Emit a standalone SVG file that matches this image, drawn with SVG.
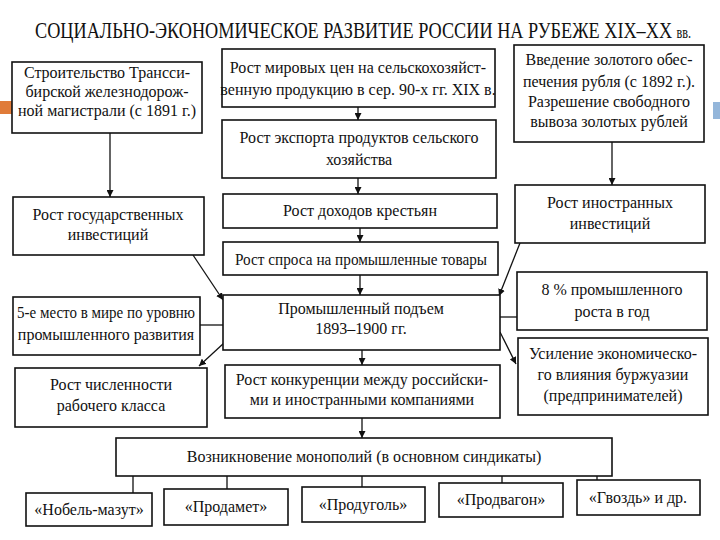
<svg xmlns="http://www.w3.org/2000/svg" width="720" height="540" viewBox="0 0 720 540">
<style>
.box{fill:#fff;stroke:#111;stroke-width:1.6}
.t{font-family:'Liberation Serif','Times New Roman',serif;font-size:16px;fill:#111;text-anchor:middle}
.title{font-family:'Liberation Serif','Times New Roman',serif;font-size:24px;fill:#111}
.c{stroke:#111;stroke-width:1.3;fill:none}
.a{marker-end:url(#arr)}
</style>
<defs>
<marker id="arr" viewBox="0 0 10 10" refX="10" refY="5" markerWidth="7" markerHeight="7" markerUnits="userSpaceOnUse" orient="auto">
<path d="M0,0 L10,5 L0,10 z" fill="#111"/>
</marker>
</defs>
<rect width="720" height="540" fill="#fff"/>
<rect x="0" y="101" width="12" height="13" fill="#E07B39"/>
<rect x="713" y="102" width="7" height="17" fill="#94B6DA"/>
<text class="title" transform="translate(35,38) scale(0.76,1)" x="0" y="0">СОЦИАЛЬНО-ЭКОНОМИЧЕСКОЕ РАЗВИТИЕ РОССИИ НА РУБЕЖЕ XIX–XX <tspan style="font-size:16px">вв.</tspan></text>

<g id="connectors">
<path class="c a" d="M110,133 L110,197"/>
<path class="c a" d="M358,107 L358,120"/>
<path class="c a" d="M358,178 L358,194"/>
<path class="c a" d="M360,228 L360,242"/>
<path class="c a" d="M360,275 L360,295"/>
<path class="c a" d="M362,350 L362,365"/>
<path class="c a" d="M362,418 L362,438"/>
<path class="c a" d="M612,142 L612,185"/>
<path class="c a" d="M193,255 L223,300"/>
<path class="c a" d="M520,243 L499,296"/>
<path class="c" d="M223,325 L200,325"/>
<path class="c" d="M500,317 L517,317"/>
<path class="c a" d="M224,343 L199,366"/>
<path class="c a" d="M500,332 L516,364"/>
<path class="c" d="M133,476 L133,493 M227,476 L227,489 M362,476 L362,487 M502,476 L502,483 M597,476 L597,480"/>
</g>

<g id="n-transsib"><rect class="box" x="12" y="62" width="190" height="71"/>
<text class="t" x="107" y="78">Строительство Трансси-</text>
<text class="t" x="107" y="97">бирской железнодорож-</text>
<text class="t" x="107" y="116">ной магистрали (с 1891 г.)</text></g>

<g id="n-prices"><rect class="box" x="222" y="49" width="273" height="58"/>
<text class="t" x="358" y="73">Рост мировых цен на сельскохозяйст-</text>
<text class="t" x="358" y="95">венную продукцию в сер. 90-х гг. XIX в.</text></g>

<g id="n-export"><rect class="box" x="222" y="120" width="274" height="58"/>
<text class="t" x="359" y="143">Рост экспорта продуктов сельского</text>
<text class="t" x="359" y="165">хозяйства</text></g>

<g id="n-income"><rect class="box" x="223" y="194" width="274" height="34"/>
<text class="t" x="360" y="216">Рост доходов крестьян</text></g>

<g id="n-demand"><rect class="box" x="223" y="242" width="275" height="33"/>
<text class="t" x="361" y="265" textLength="252" lengthAdjust="spacingAndGlyphs">Рост спроса на промышленные товары</text></g>

<g id="n-boom"><rect class="box" x="223" y="295" width="277" height="55"/>
<text class="t" x="361" y="314">Промышленный подъем</text>
<text class="t" x="361" y="334">1893–1900 гг.</text></g>

<g id="n-competition"><rect class="box" x="225" y="365" width="275" height="53"/>
<text class="t" x="362" y="385">Рост конкуренции между российски-</text>
<text class="t" x="362" y="405">ми и иностранными компаниями</text></g>

<g id="n-stateinv"><rect class="box" x="13" y="197" width="191" height="58"/>
<text class="t" x="108" y="220">Рост государственных</text>
<text class="t" x="108" y="240">инвестиций</text></g>

<g id="n-fifth"><rect class="box" x="13" y="297" width="187" height="58"/>
<text class="t" x="106" y="318" textLength="178" lengthAdjust="spacingAndGlyphs">5-е место в мире по уровню</text>
<text class="t" x="106" y="340">промышленного развития</text></g>

<g id="n-workers"><rect class="box" x="15" y="368" width="192" height="59"/>
<text class="t" x="111" y="390">Рост численности</text>
<text class="t" x="111" y="411">рабочего класса</text></g>

<g id="n-gold"><rect class="box" x="514" y="45" width="190" height="97"/>
<text class="t" x="609" y="65">Введение золотого обес-</text>
<text class="t" x="609" y="87">печения рубля (с 1892 г.).</text>
<text class="t" x="609" y="107">Разрешение свободного</text>
<text class="t" x="609" y="127">вывоза золотых рублей</text></g>

<g id="n-foreigninv"><rect class="box" x="515" y="185" width="190" height="58"/>
<text class="t" x="610" y="208">Рост иностранных</text>
<text class="t" x="610" y="229">инвестиций</text></g>

<g id="n-eight"><rect class="box" x="517" y="272" width="190" height="58"/>
<text class="t" x="612" y="295">8 % промышленного</text>
<text class="t" x="612" y="317">роста в год</text></g>

<g id="n-bourgeoisie"><rect class="box" x="518" y="338" width="190" height="77"/>
<text class="t" x="613" y="359">Усиление экономическо-</text>
<text class="t" x="613" y="380">го влияния буржуазии</text>
<text class="t" x="613" y="401">(предпринимателей)</text></g>

<g id="n-monopolies"><rect class="box" x="116" y="438" width="496" height="38"/>
<text class="t" x="364" y="462">Возникновение монополий (в основном синдикаты)</text></g>

<g id="n-nobel"><rect class="box" x="26" y="493" width="126" height="33"/>
<text class="t" x="89" y="515">«Нобель-мазут»</text></g>
<g id="n-prodamet"><rect class="box" x="164" y="489" width="124" height="36"/>
<text class="t" x="226" y="512">«Продамет»</text></g>
<g id="n-produgol"><rect class="box" x="302" y="487" width="123" height="35"/>
<text class="t" x="363" y="510">«Продуголь»</text></g>
<g id="n-prodvagon"><rect class="box" x="439" y="483" width="124" height="34"/>
<text class="t" x="501" y="505">«Продвагон»</text></g>
<g id="n-gvozd"><rect class="box" x="577" y="480" width="123" height="35"/>
<text class="t" x="638" y="503">«Гвоздь» и др.</text></g>
</svg>
